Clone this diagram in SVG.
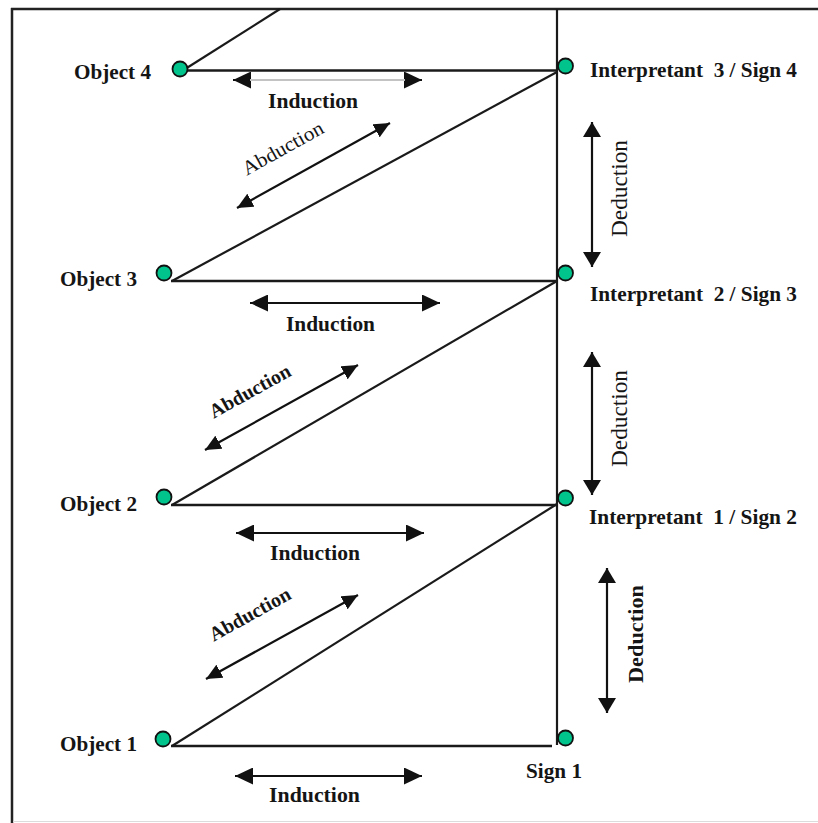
<svg xmlns="http://www.w3.org/2000/svg" width="818" height="823" viewBox="0 0 818 823">
  <style>
    text { font-family: "Liberation Serif", "Times New Roman", serif; fill: #151515; }
    .lbl { font-size: 21px; font-weight: bold; }
    .reg { font-size: 23px; font-weight: normal; }
    .abd { font-size: 20px; font-weight: bold; }
    .dot { fill: #00c48c; stroke: #111; stroke-width: 1.8; }
    .ln { stroke: #1a1a1a; stroke-width: 2.2; fill: none; }
    .hz { stroke: #1a1a1a; stroke-width: 2.6; fill: none; }
    .frame { stroke: #222; stroke-width: 2.5; fill: none; }
    .ind { stroke: #111; stroke-width: 2.2; marker-start: url(#hInd); marker-end: url(#hInd); }
    .ded { stroke: #111; stroke-width: 2.2; marker-start: url(#hDed); marker-end: url(#hDed); }
    .abdA { stroke: #111; stroke-width: 2.2; marker-start: url(#hAbd); marker-end: url(#hAbd); }
  </style>
  <defs>
    <marker id="hInd" markerUnits="userSpaceOnUse" markerWidth="19" markerHeight="17" refX="18" refY="8.5" orient="auto-start-reverse">
      <path d="M0,0 L18,8.5 L0,17 z" fill="#111"/>
    </marker>
    <marker id="hDed" markerUnits="userSpaceOnUse" markerWidth="16" markerHeight="18" refX="15" refY="9" orient="auto-start-reverse">
      <path d="M0,0 L15,9 L0,18 z" fill="#111"/>
    </marker>
    <marker id="hAbd" markerUnits="userSpaceOnUse" markerWidth="17" markerHeight="15" refX="16" refY="7.5" orient="auto-start-reverse">
      <path d="M0,0 L16,7.5 L0,15 z" fill="#111"/>
    </marker>
  </defs>

  <rect x="0" y="0" width="818" height="823" fill="#ffffff"/>

  <g id="frame">
    <line class="frame" x1="11" y1="9" x2="818" y2="9"/>
    <line class="frame" x1="12" y1="8" x2="12" y2="823"/>
    <line x1="13" y1="821.5" x2="818" y2="821.5" stroke="#dcdcdc" stroke-width="1"/>
  </g>

  <g id="connectors">
    <line class="ln" x1="557" y1="9" x2="557" y2="745"/>
    <line class="hz" x1="182" y1="70.5" x2="557" y2="70.5"/>
    <line class="hz" x1="171" y1="281" x2="557" y2="281"/>
    <line class="hz" x1="171" y1="505" x2="557" y2="505"/>
    <line class="hz" x1="171" y1="746" x2="552" y2="746"/>
    <line class="ln" x1="182" y1="71" x2="280" y2="9"/>
    <line class="ln" x1="172" y1="281" x2="557" y2="72"/>
    <line class="ln" x1="172" y1="505" x2="557" y2="281"/>
    <line class="ln" x1="172" y1="746" x2="557" y2="504"/>

    <g id="induction-arrows">
      <line class="ind" x1="233" y1="80" x2="422" y2="80" stroke-width="5.5"/>
      <line x1="250" y1="80" x2="405" y2="80" stroke="#fff" stroke-width="1.6"/>
      <line class="ind" x1="250" y1="303" x2="440" y2="303"/>
      <line class="ind" x1="236" y1="533" x2="424" y2="533"/>
      <line class="ind" x1="235" y1="776" x2="422" y2="776"/>
    </g>
    <g id="deduction-arrows">
      <line class="ded" x1="592" y1="122" x2="592" y2="267"/>
      <line class="ded" x1="592" y1="352" x2="592" y2="495"/>
      <line class="ded" x1="607" y1="568" x2="607" y2="713"/>
    </g>
    <g id="abduction-arrows">
      <line class="abdA" x1="237" y1="208" x2="390" y2="123"/>
      <line class="abdA" x1="205" y1="450" x2="358" y2="365"/>
      <line class="abdA" x1="206" y1="679" x2="358" y2="595"/>
    </g>
  </g>

  <g id="object4">
    <circle class="dot" cx="180" cy="69" r="7.5"/>
    <text class="lbl" x="74" y="79" textLength="77" lengthAdjust="spacingAndGlyphs">Object 4</text>
  </g>
  <g id="object3">
    <circle class="dot" cx="164" cy="273" r="7.5"/>
    <text class="lbl" x="60" y="286" textLength="77" lengthAdjust="spacingAndGlyphs">Object 3</text>
  </g>
  <g id="object2">
    <circle class="dot" cx="164" cy="497" r="7.5"/>
    <text class="lbl" x="60" y="511" textLength="77" lengthAdjust="spacingAndGlyphs">Object 2</text>
  </g>
  <g id="object1">
    <circle class="dot" cx="163" cy="739" r="7.5"/>
    <text class="lbl" x="60" y="751" textLength="77" lengthAdjust="spacingAndGlyphs">Object 1</text>
  </g>

  <g id="interpretant3">
    <circle class="dot" cx="565.5" cy="66" r="7.5"/>
    <text class="lbl" x="590" y="77" textLength="207" lengthAdjust="spacingAndGlyphs">Interpretant&#160; 3 / Sign 4</text>
  </g>
  <g id="interpretant2">
    <circle class="dot" cx="565.5" cy="273" r="7.5"/>
    <text class="lbl" x="590" y="301" textLength="207" lengthAdjust="spacingAndGlyphs">Interpretant&#160; 2 / Sign 3</text>
  </g>
  <g id="interpretant1">
    <circle class="dot" cx="565.5" cy="498" r="7.5"/>
    <text class="lbl" x="589" y="524" textLength="208" lengthAdjust="spacingAndGlyphs">Interpretant&#160; 1 / Sign 2</text>
  </g>
  <g id="sign1">
    <circle class="dot" cx="565.5" cy="738" r="7.5"/>
    <text class="lbl" x="526" y="778" textLength="56" lengthAdjust="spacingAndGlyphs">Sign 1</text>
  </g>

  <g id="labels">
    <text class="lbl" x="268" y="108" textLength="90" lengthAdjust="spacingAndGlyphs">Induction</text>
    <text class="lbl" x="286" y="331" textLength="89" lengthAdjust="spacingAndGlyphs">Induction</text>
    <text class="lbl" x="270" y="560" textLength="90" lengthAdjust="spacingAndGlyphs">Induction</text>
    <text class="lbl" x="269" y="802" textLength="91" lengthAdjust="spacingAndGlyphs">Induction</text>

    <text class="reg" transform="translate(627,188.5) rotate(-90)" text-anchor="middle" textLength="97" lengthAdjust="spacingAndGlyphs">Deduction</text>
    <text class="reg" transform="translate(627,418.5) rotate(-90)" text-anchor="middle" textLength="97" lengthAdjust="spacingAndGlyphs">Deduction</text>
    <text class="lbl" transform="translate(643,634) rotate(-90)" text-anchor="middle" textLength="98" lengthAdjust="spacingAndGlyphs" style="font-size:22px">Deduction</text>

    <text class="abd" transform="translate(286,154) rotate(-29)" text-anchor="middle" textLength="90" lengthAdjust="spacingAndGlyphs" style="font-weight:normal">Abduction</text>
    <text class="abd" transform="translate(253,397) rotate(-29)" text-anchor="middle" textLength="90" lengthAdjust="spacingAndGlyphs">Abduction</text>
    <text class="abd" transform="translate(253,620) rotate(-29)" text-anchor="middle" textLength="90" lengthAdjust="spacingAndGlyphs">Abduction</text>
  </g>
</svg>
